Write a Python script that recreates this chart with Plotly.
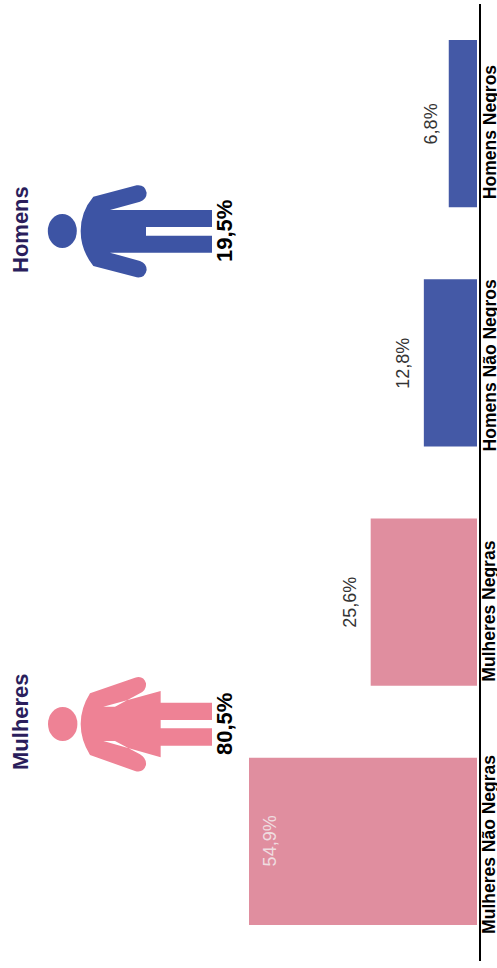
import plotly.graph_objects as go

categories = ["Mulheres Não Negras", "Mulheres Negras", "Homens Não Negros", "Homens Negros"]
values = [54.9, 25.6, 12.8, 6.8]
value_labels = ["54,9%", "25,6%", "12,8%", "6,8%"]
bar_colors = ["#E08E9F", "#E08E9F", "#4459A6", "#4459A6"]
value_colors = ["#EFDDE0", "#333333", "#333333", "#333333"]
value_shift = [21, -21, -21, -18]
label_shift = [-3, -9, -3, -9]
group_titles = ["Mulheres", "Homens"]
group_shares = ["80,5%", "19,5%"]

W, H = 497.0, 968.0
PINK, BLUE = "#EE8295", "#3D54A4"


def pt(x, y):
    return f"{x / W:.5f} {1 - y / H:.5f}"


def icon_path(points, ox, oy):
    out = []
    for cmd, *c in points:
        coords = [pt(c[i] / 3 + ox, c[i + 1] / 3 + oy) for i in range(0, len(c), 2)]
        out.append(cmd + " " + " ".join(coords))
    return " ".join(out) + " Z"


woman = [("M", 270, 160), ("L", 405, 113), ("Q", 430, 105, 438, 130), ("Q", 440, 150, 420, 160),
         ("L", 345, 200), ("L", 310, 200), ("L", 482, 153), ("L", 482, 188), ("L", 636, 188),
         ("L", 636, 240), ("L", 482, 240), ("L", 482, 265), ("L", 636, 265), ("L", 636, 317),
         ("L", 482, 317), ("L", 482, 352), ("L", 310, 303), ("L", 345, 303), ("L", 420, 343),
         ("Q", 440, 355, 438, 375), ("Q", 430, 400, 405, 393), ("L", 270, 345), ("Q", 242, 300, 242, 252),
         ("Q", 242, 205, 270, 160)]
man = [("M", 280, 80), ("L", 410, 46), ("Q", 435, 43, 440, 68), ("Q", 440, 88, 420, 95), ("L", 330, 120),
       ("L", 636, 120), ("L", 636, 171), ("L", 438, 171), ("L", 438, 197), ("L", 636, 197), ("L", 636, 248),
       ("L", 330, 248), ("L", 420, 273), ("Q", 440, 280, 440, 300), ("Q", 435, 325, 410, 322), ("L", 280, 288),
       ("Q", 242, 240, 242, 183), ("Q", 242, 125, 280, 80)]


def head(cx, cy, rx, ry, color):
    return dict(type="circle", xref="paper", yref="paper", x0=(cx - rx) / W, x1=(cx + rx) / W,
                y0=1 - (cy + ry) / H, y1=1 - (cy - ry) / H, fillcolor=color, line_width=0)


fig = go.Figure(go.Bar(y=categories, x=values, orientation="h", marker=dict(color=bar_colors, line_width=0),
                       width=0.70, hoverinfo="skip"))

CENTER = dict(xanchor="center", yanchor="middle", showarrow=False, textangle=-90)
annotations = []
for c, v, t, col, sh, ls in zip(categories, values, value_labels, value_colors, value_shift, label_shift):
    annotations.append(dict(x=v, y=c, text=t, xshift=sh,
                            font=dict(family="Liberation Sans", size=18, color=col), **CENTER))
    annotations.append(dict(xref="paper", x=489.5 / W, y=c, text=f"<b>{c}</b>", yshift=ls,
                            font=dict(family="Liberation Sans", size=17.5, color="#000000"), **CENTER))
for title, share, yc, ys in zip(group_titles, group_shares, [722, 230], [724, 231]):
    annotations.append(dict(xref="paper", yref="paper", x=20 / W, y=1 - yc / H, text=f"<b>{title}</b>",
                            font=dict(family="Liberation Sans", size=22, color="#2A1E5C"), **CENTER))
    annotations.append(dict(xref="paper", yref="paper", x=224 / W, y=1 - ys / H, text=f"<b>{share}</b>",
                            font=dict(family="Liberation Sans", size=22, color="#000000"), **CENTER))

fig.update_layout(
    width=497, height=968, margin=dict(l=0, r=0, t=0, b=0), paper_bgcolor="#FFFFFF", plot_bgcolor="#FFFFFF",
    showlegend=False, annotations=annotations,
    xaxis=dict(domain=[0, 477 / W], range=[477 / (228 / 54.9), 0], visible=False),
    yaxis=dict(domain=[1 - 961 / H, 1 - 4 / H], categoryorder="array", categoryarray=categories,
               range=[-0.5, 3.5], anchor="free", position=480.2 / W, showline=True, linecolor="#000000",
               linewidth=2, showticklabels=False, ticks="", showgrid=False, zeroline=False),
    shapes=[
        dict(type="path", xref="paper", yref="paper", path=icon_path(woman, 0, 640), fillcolor=PINK, line_width=0),
        head(62.7, 724, 14.7, 17, PINK),
        dict(type="path", xref="paper", yref="paper", path=icon_path(man, 0, 170), fillcolor=BLUE, line_width=0),
        head(62.3, 231, 14.5, 17, BLUE),
    ],
)
fig.write_html("out.html", config=dict(displayModeBar=False),
               post_script="document.body.style.margin='0';document.body.style.overflow='hidden';")
